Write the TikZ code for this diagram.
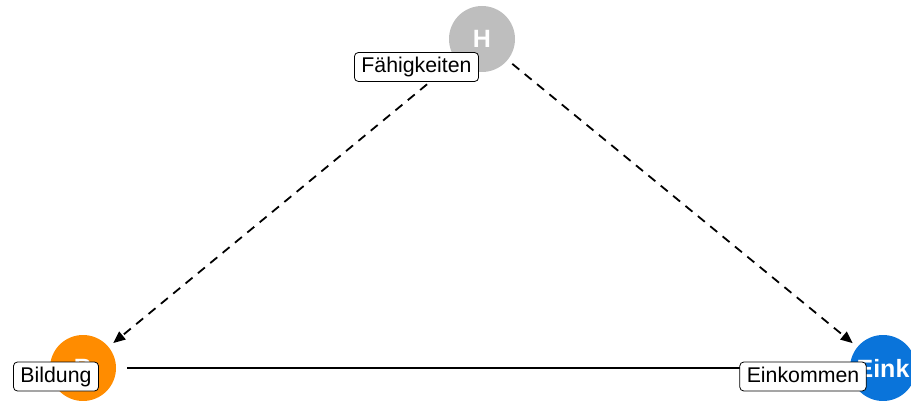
\documentclass[tikz,border=0pt]{standalone}
\usepackage{fontspec}
\setmainfont{Liberation Sans}
\usetikzlibrary{arrows.meta}
\definecolor{cH}{HTML}{BEBEBE}
\definecolor{cB}{HTML}{FF8C00}
\definecolor{cE}{HTML}{0A74DA}
\begin{document}
\begin{tikzpicture}[x=1pt,y=-1pt,
  dagnode/.style={circle,minimum size=66pt,inner sep=0pt,text=white,font=\fontsize{25}{29}\selectfont\bfseries},
  lbl/.style={draw=black,fill=white,rounded corners=4pt,line width=0.8pt,inner xsep=7pt,inner ysep=0pt,
    minimum height=29pt,text height=15.5pt,text depth=4.5pt,font=\fontsize{21.3}{25}\selectfont},
  edgearrow/.style={line width=1.8pt,-{Triangle[length=12pt,width=10pt]}},
  dashedge/.style={edgearrow,dash pattern=on 9pt off 7pt}]
\useasboundingbox (0,0) rectangle (911,401);
\node[dagnode,fill=cH] (H) at (482,39) {H};
\node[dagnode,fill=cB] (B) at (83,368) {B};
\node[dagnode,fill=cE] (E) at (883,368) {Eink};
\draw[dashedge,shorten <=6pt,shorten >=6pt] (H) -- (B);
\draw[dashedge,shorten <=6pt,shorten >=6pt] (H) -- (E);
\draw[edgearrow,shorten <=11pt,shorten >=11pt] (B) -- (E);
\node[lbl] (lH) at (416.5,67) {Fähigkeiten};
\node[lbl] (lB) at (56,376.5) {Bildung};
\node[lbl] (lE) at (803,376.5) {Einkommen};
\end{tikzpicture}
\end{document}
